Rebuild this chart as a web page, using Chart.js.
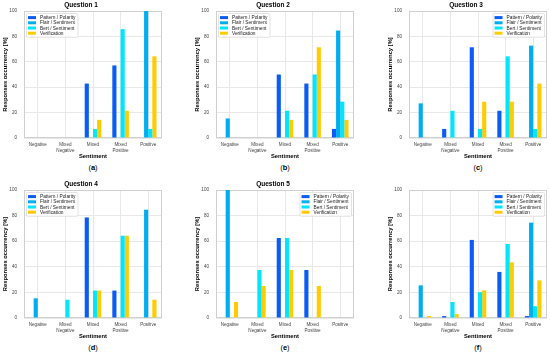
<!DOCTYPE html>
<html><head><meta charset="utf-8">
<script src="https://cdn.jsdelivr.net/npm/chart.js@4"></script>
<style>
body{margin:0;background:#fff;width:550px;height:353px;overflow:hidden;position:relative;font-family:"Liberation Sans",Arial,sans-serif}
canvas{position:absolute}
.cap{position:absolute;width:40px;text-align:center;font-size:7.5px;color:#000;line-height:10px}
</style></head><body>
<script>
const categories = [["Negative"],["Mixed","Negative"],["Mixed"],["Mixed","Positive"],["Positive"]];
const seriesNames = ["Pattern / Polarity","Flair / Sentiment","Bert / Sentiment","Verification"];
const seriesColors = ["#0a5cf5","#00aef0","#00e6ff","#ffcc00"];
const titles = ["Question 1","Question 2","Question 3","Question 4","Question 5",""];
const captions = ["a","b","c","d","e","f"];
const legendSides = ["left","left","right","left","right","right"];
const yTicks = [0,20,40,60,80,100];

const q1Pattern = [0,0,42.86,57.14,0];
const q1Flair   = [0,0,0,0,100];
const q1Bert    = [0,0,7.14,85.71,7.14];
const q1Verif   = [0,0,14.29,21.43,64.29];

const q2Pattern = [0,0,50,42.86,7.14];
const q2Flair   = [15.38,0,0,0,84.62];
const q2Bert    = [0,0,21.43,50,28.57];
const q2Verif   = [0,0,14.29,71.43,14.29];

const q3Pattern = [0,7.14,71.43,21.43,0];
const q3Flair   = [27.27,0,0,0,72.73];
const q3Bert    = [0,21.43,7.14,64.29,7.14];
const q3Verif   = [0,0,28.57,28.57,42.86];

const q4Pattern = [0,0,78.57,21.43,0];
const q4Flair   = [15.38,0,0,0,84.62];
const q4Bert    = [0,14.29,21.43,64.29,0];
const q4Verif   = [0,0,21.43,64.29,14.29];

const q5Pattern = [0,0,62.5,37.5,0];
const q5Flair   = [100,0,0,0,0];
const q5Bert    = [0,37.5,62.5,0,0];
const q5Verif   = [12.5,25,37.5,25,0];

const q6Pattern = [0,1.5,61,36,1.5];
const q6Flair   = [25.5,0,0,0,74.5];
const q6Bert    = [0,12.5,20.2,57.8,9.2];
const q6Verif   = [1.5,3.1,21.6,43.5,29.4];

const questionSeries = [
  [q1Pattern,q1Flair,q1Bert,q1Verif],
  [q2Pattern,q2Flair,q2Bert,q2Verif],
  [q3Pattern,q3Flair,q3Bert,q3Verif],
  [q4Pattern,q4Flair,q4Bert,q4Verif],
  [q5Pattern,q5Flair,q5Bert,q5Verif],
  [q6Pattern,q6Flair,q6Bert,q6Verif]
];

const FONT = '"Liberation Sans", Arial, sans-serif';
const colLefts = [0,192,385];
const rowTops = [0,179];
const plotW = 138, yAxisW = 24, xAxisH = 24, titleH = 11, rightPad = 2;
const plotHs = [127,128];

const frame = {
  id:'frame',
  beforeDatasetsDraw(chart){
    const {ctx, chartArea:a} = chart;
    ctx.save();
    ctx.strokeStyle = '#d0d0d0';
    ctx.lineWidth = 1;
    ctx.strokeRect(Math.round(a.left)+0.5, Math.round(a.top)+0.5, Math.round(a.right-a.left)-1, Math.round(a.bottom-a.top)-1);
    ctx.restore();
  }
};

const insideLegend = {
  id:'insideLegend',
  afterDatasetsDraw(chart, args, opts){
    const {ctx, chartArea:a} = chart;
    const ds = chart.data.datasets;
    ctx.save();
    ctx.font = '4.8px ' + FONT;
    const textW = Math.max(...ds.map(d => ctx.measureText(d.label).width));
    const rowH = 5.2, sw = 8, pad = 1.5;
    const w = pad + sw + 4 + textW + pad + 1;
    const h = pad*2 + rowH*ds.length;
    const x = opts.side === 'right' ? a.right - 2.5 - w : a.left + 2.5;
    const y = a.top + 2.5;
    ctx.fillStyle = 'rgba(255,255,255,0.85)';
    ctx.strokeStyle = '#d8d8d8';
    ctx.lineWidth = 0.7;
    ctx.beginPath();
    ctx.roundRect(x, y, w, h, 1.2);
    ctx.fill(); ctx.stroke();
    ds.forEach((d, k) => {
      const ry = y + pad + rowH*k;
      ctx.fillStyle = d.backgroundColor;
      ctx.fillRect(x + pad, ry + 1.1, sw, 3);
      ctx.fillStyle = '#222';
      ctx.textBaseline = 'middle';
      ctx.textAlign = 'left';
      ctx.fillText(d.label, x + pad + sw + 4, ry + rowH/2 + 0.2);
    });
    ctx.restore();
  }
};

questionSeries.forEach((series, i) => {
  const col = i % 3, row = Math.floor(i / 3);
  const cv = document.createElement('canvas');
  const W = yAxisW + plotW + rightPad;
  const H = titleH + plotHs[row] + xAxisH;
  cv.width = W; cv.height = H;
  cv.style.left = colLefts[col] + 'px';
  cv.style.top = rowTops[row] + 'px';
  cv.style.width = W + 'px'; cv.style.height = H + 'px';
  document.body.appendChild(cv);

  const cap = document.createElement('div');
  cap.className = 'cap';
  cap.innerHTML = '(<b>' + captions[i] + '</b>)';
  cap.style.left = (colLefts[col] + yAxisW + plotW/2 - 20) + 'px';
  cap.style.top = (row === 0 ? 163 : 343) + 'px';
  document.body.appendChild(cap);

  new Chart(cv, {
    type:'bar',
    data:{
      labels: categories,
      datasets: series.map((vals, k) => ({
        label: seriesNames[k],
        data: vals,
        backgroundColor: seriesColors[k],
        borderWidth: 0,
        categoryPercentage: 0.6,
        barPercentage: 1.0
      }))
    },
    options:{
      responsive:false,
      animation:false,
      devicePixelRatio:1,
      layout:{padding:{left:0,right:rightPad,top:0,bottom:0}},
      plugins:{
        legend:{display:false},
        tooltip:{enabled:false},
        title:{display:true, text: titles[i] || ' ', color:'#000',
          font:{size:6.5, weight:'bold', family:FONT, lineHeight:1.2},
          padding:{top:1, bottom:titleH - 1 - 7.8}},
        insideLegend:{side: legendSides[i]}
      },
      scales:{
        x:{
          grid:{offset:false, color:'#e8e8e8', lineWidth:1, drawTicks:false},
          border:{display:false},
          ticks:{font:{size:4.6, family:FONT, lineHeight:1.2}, color:'#444', padding:4, maxRotation:0, autoSkip:false},
          title:{display:true, text:'Sentiment', color:'#000', font:{size:5.8, weight:'bold', family:FONT}, padding:{top:0,bottom:2.5}},
          afterFit(s){ s.height = xAxisH; }
        },
        y:{
          min:0, max:100,
          afterBuildTicks(s){ s.ticks = yTicks.map(v => ({value:v})); },
          grid:{color:'#e8e8e8', lineWidth:1, drawTicks:false},
          border:{display:false},
          ticks:{font:{size:4.6, family:FONT}, color:'#444', padding:7},
          title:{display:true, text:'Responses occurrency [%]', color:'#000', font:{size:5.8, weight:'bold', family:FONT}, padding:{top:1.5,bottom:0}},
          afterFit(s){ s.width = yAxisW; }
        }
      }
    },
    plugins:[frame, insideLegend]
  });
});
</script>
</body></html>
